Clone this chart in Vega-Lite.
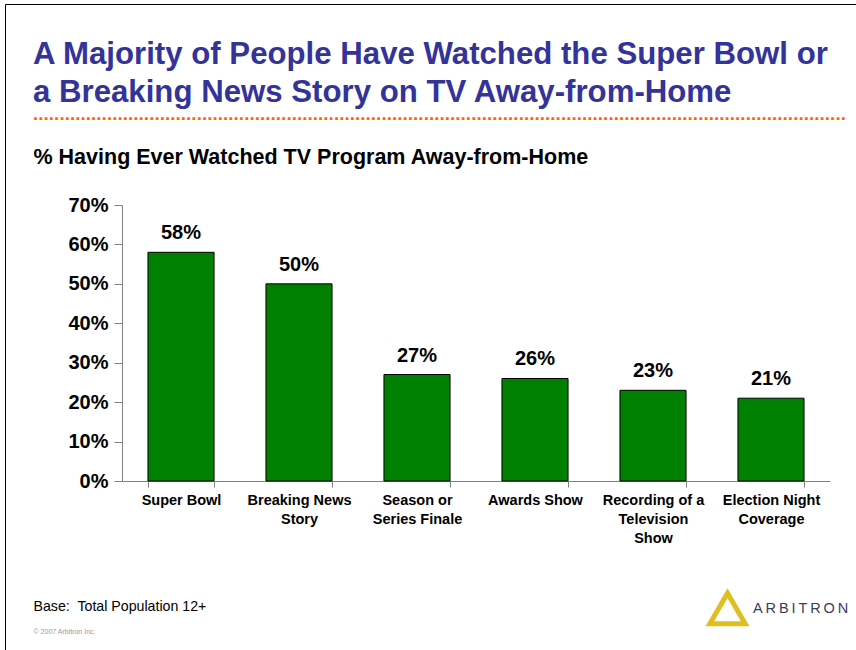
{
  "$schema": "https://vega.github.io/schema/vega-lite/v6.json",
  "autosize": "none",
  "width": 708,
  "height": 276,
  "padding": {"left": 122, "top": 205, "right": 26, "bottom": 169},
  "background": "white",
  "config": {
    "font": "Liberation Sans",
    "view": {"stroke": null}
  },
  "title": {
    "text": ["A Majority of People Have Watched the Super Bowl or", "a Breaking News Story on TV Away-from-Home"],
    "subtitle": "..........................................................................................................................................................",
    "anchor": "start",
    "frame": "group",
    "dx": -89,
    "font": "Liberation Sans",
    "fontSize": 31.2,
    "fontWeight": "bold",
    "color": "#333399",
    "lineHeight": 38,
    "subtitleFont": "Liberation Sans",
    "subtitleFontSize": 19,
    "subtitleFontWeight": "bold",
    "subtitleColor": "#FF6600",
    "subtitlePadding": -4,
    "offset": -120
  },
  "data": {
    "values": [
      {"program": "Super Bowl", "pct": 0.58, "label": "58%"},
      {"program": "Breaking News|Story", "pct": 0.50, "label": "50%"},
      {"program": "Season or|Series Finale", "pct": 0.27, "label": "27%"},
      {"program": "Awards Show", "pct": 0.26, "label": "26%"},
      {"program": "Recording of a|Television|Show", "pct": 0.23, "label": "23%"},
      {"program": "Election Night|Coverage", "pct": 0.21, "label": "21%"}
    ]
  },
  "resolve": {"axis": {"x": "independent", "y": "independent"}},
  "layer": [
    {
      "mark": {"type": "bar", "fill": "#008000", "stroke": "#000000", "strokeWidth": 1},
      "encoding": {
        "x": {
          "field": "program", "type": "nominal", "sort": null,
          "scale": {"paddingInner": 0.44, "paddingOuter": 0.22},
          "axis": {
            "orient": "bottom",
            "labelAngle": 0,
            "labelExpr": "datum.value ? split(datum.value, '|') : ''",
            "labelFont": "Liberation Sans",
            "labelFontSize": 14.5,
            "labelFontWeight": "bold",
            "labelColor": "#000000",
            "labelLineHeight": 19,
            "labelBaseline": "top",
            "labelPadding": 6,
            "labelLimit": 200,
            "tickBand": "extent",
            "tickSize": 6,
            "tickColor": "#808080",
            "domainColor": "#808080",
            "title": "Base:\u00a0 Total Population 12+",
            "titleFont": "Liberation Sans",
            "titleFontSize": 14.2,
            "titleFontWeight": "normal",
            "titleColor": "#000000",
            "titleAngle": 0,
            "titleAlign": "left",
            "titleBaseline": "alphabetic",
            "titleX": -89,
            "titleY": 129
          }
        },
        "y": {
          "field": "pct", "type": "quantitative",
          "scale": {"domain": [0, 0.7]},
          "axis": {
            "orient": "left",
            "values": [0, 0.1, 0.2, 0.3, 0.4, 0.5, 0.6, 0.7],
            "format": ".0%",
            "grid": false,
            "labelFont": "Liberation Sans",
            "labelFontSize": 20,
            "labelFontWeight": "bold",
            "labelColor": "#000000",
            "labelPadding": 6,
            "tickSize": 8,
            "tickColor": "#808080",
            "domainColor": "#808080",
            "title": "% Having Ever Watched TV Program Away-from-Home",
            "titleFont": "Liberation Sans",
            "titleFontSize": 21.5,
            "titleFontWeight": "bold",
            "titleColor": "#000000",
            "titleAngle": 0,
            "titleAlign": "left",
            "titleBaseline": "alphabetic",
            "titleX": -89,
            "titleY": -42
          }
        }
      }
    },
    {
      "mark": {"type": "text", "font": "Liberation Sans", "fontSize": 20, "fontWeight": "bold", "color": "#000000", "baseline": "alphabetic", "dy": -13},
      "encoding": {
        "x": {
          "field": "program", "type": "nominal", "sort": null,
          "axis": {
            "orient": "top",
            "labels": false, "ticks": false, "domain": false,
            "title": "© 2007 Arbitron Inc.",
            "titleFont": "Liberation Sans",
            "titleFontSize": 7,
            "titleFontWeight": "normal",
            "titleColor": "#999999",
            "titleAngle": 0,
            "titleAlign": "left",
            "titleBaseline": "alphabetic",
            "titleX": -89,
            "titleY": 428
          }
        },
        "y": {
          "field": "pct", "type": "quantitative",
          "axis": null
        },
        "text": {"field": "label"}
      }
    },
    {
      "transform": [{"filter": "false"}],
      "mark": {"type": "point", "shape": "triangle-up", "filled": false, "strokeWidth": 5},
      "encoding": {
        "color": {
          "datum": "ARBITRON",
          "type": "nominal",
          "scale": {"range": ["#E0BE1E"]},
          "legend": {
            "orient": "none",
            "legendX": 585,
            "legendY": 383,
            "padding": 0,
            "title": null,
            "symbolType": "triangle-up",
            "symbolSize": 1250,
            "symbolStrokeWidth": 5,
            "symbolOpacity": 1,
            "labelExpr": "'A\u2009R\u2009B\u2009I\u2009T\u2009R\u2009O\u2009N'",
            "labelFont": "Liberation Sans",
            "labelFontSize": 14.5,
            "labelColor": "#3a3d5c",
            "labelOffset": 5,
            "labelLimit": 300
          }
        },
        "size": {
          "datum": "frame",
          "type": "ordinal",
          "scale": {"range": [100]},
          "legend": {
            "orient": "none",
            "legendX": -117,
            "legendY": -201,
            "padding": 480,
            "title": null,
            "strokeColor": "#000000",
            "symbolOpacity": 0,
            "symbolStrokeWidth": 0,
            "labelExpr": "''",
            "encode": {"legend": {"update": {"strokeWidth": {"value": 2}}}}
          }
        }
      }
    }
  ]
}
